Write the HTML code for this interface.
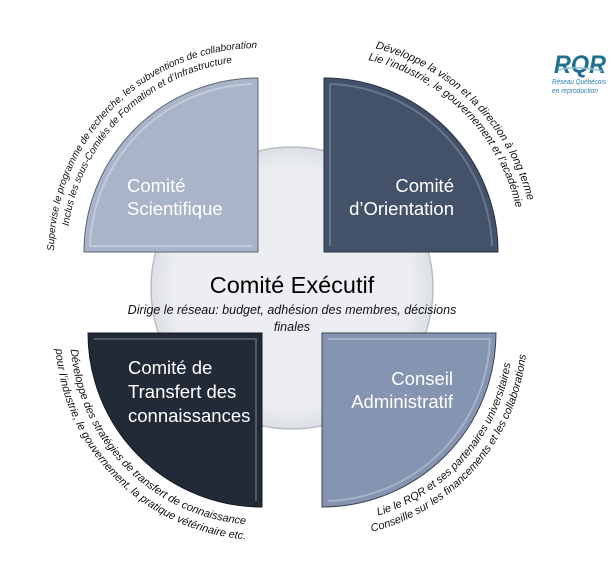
<!DOCTYPE html>
<html><head><meta charset="utf-8"><style>
html,body{margin:0;padding:0;background:#fff;}
svg{display:block;}
</style></head><body>
<svg width="613" height="574" viewBox="0 0 613 574" xmlns="http://www.w3.org/2000/svg" font-family="Liberation Sans, sans-serif">
<defs>
<radialGradient id="cg" cx="50%" cy="50%" r="50%">
<stop offset="0.85" stop-color="#eceef1"/><stop offset="1" stop-color="#dcdfe4"/>
</radialGradient>
<path id="tlo" d="M54.8,269.8 A204,204 0 0 1 275.8,48.8"/>
<path id="tli" d="M67.7,268.6 A191,191 0 0 1 274.6,61.7"/>
<path id="tro" d="M305.7,42.8 A210,210 0 0 1 533.2,270.3"/>
<path id="tri" d="M306.8,55.7 A197,197 0 0 1 520.3,269.2"/>
<path id="bli" d="M70.7,316.3 A192,192 0 0 0 278.7,524.3"/>
<path id="blo" d="M55.8,314.9 A207,207 0 0 0 280.0,539.2"/>
<path id="bri" d="M305.3,523.3 A191,191 0 0 0 512.3,316.4"/>
<path id="bro" d="M304.1,537.2 A205,205 0 0 0 526.2,315.1"/>
</defs>

<circle cx="292" cy="288" r="141" fill="url(#cg)" stroke="#b9bdc4" stroke-width="1.5"/>

<path d="M258,252 L84,252 A174,174 0 0 1 258,78 Z" fill="#a9b4c8" stroke="#5b6375" stroke-width="1"/>
<path d="M252,246 L90,246 A168,168 0 0 1 252,84" fill="none" stroke="#c9d1df" stroke-width="2" opacity="0.8"/>
<path d="M324,252 L324,78 A174,174 0 0 1 498,252 Z" fill="#435169" stroke="#2a3242" stroke-width="1"/>
<path d="M330,246 L330,84 A168,168 0 0 1 492,246" fill="none" stroke="#7885a0" stroke-width="2" opacity="0.7"/>
<path d="M262,333 L88,333 A174,174 0 0 0 262,507 Z" fill="#232a37" stroke="#141820" stroke-width="1"/>
<path d="M94,339 L256,339 L256,501" fill="none" stroke="#5c6475" stroke-width="2" opacity="0.8"/>
<path d="M322,333 L322,507 A174,174 0 0 0 496,333 Z" fill="#8595b1" stroke="#3b4354" stroke-width="1"/>
<path d="M328,339 L490,339 A168,168 0 0 1 328,501" fill="none" stroke="#b3bfd2" stroke-width="2" opacity="0.7"/>

<g fill="#fff" font-size="18.5">
<text x="127" y="192">Comité</text>
<text x="127" y="215">Scientifique</text>
<text x="454" y="192" text-anchor="end">Comité</text>
<text x="454" y="215" text-anchor="end">d’Orientation</text>
<text x="128" y="374">Comité de</text>
<text x="128" y="398">Transfert des</text>
<text x="128" y="422">connaissances</text>
<text x="453" y="385" text-anchor="end">Conseil</text>
<text x="453" y="408" text-anchor="end">Administratif</text>
</g>

<text x="292" y="293" text-anchor="middle" font-size="23.5" fill="#000">Comité Exécutif</text>
<text x="292" y="314" text-anchor="middle" font-size="12.5" font-style="italic" fill="#111">Dirige le réseau: budget, adhésion des membres, décisions</text>
<text x="292" y="331" text-anchor="middle" font-size="12.5" font-style="italic" fill="#111">finales</text>

<g font-size="10" font-style="italic" fill="#111">
<text><textPath href="#tlo" startOffset="50%" text-anchor="middle">Supervise le programme de recherche, les subventions de collaboration</textPath></text>
<text><textPath href="#tli" startOffset="50%" text-anchor="middle">Inclus les sous-Comités de Formation et d’Infrastructure</textPath></text>
<text font-size="11"><textPath href="#tro" startOffset="50%" text-anchor="middle">Développe la vison et la direction à long terme</textPath></text>
<text font-size="11"><textPath href="#tri" startOffset="50%" text-anchor="middle">Lie l’industrie, le gouvernement et l’académie</textPath></text>
<text font-size="11"><textPath href="#bli" startOffset="50%" text-anchor="middle">Développe des stratégies de transfert de connaissance</textPath></text>
<text font-size="11"><textPath href="#blo" startOffset="50%" text-anchor="middle">pour l’industrie, le gouvernement, la pratique vétérinaire etc.</textPath></text>
<text font-size="11"><textPath href="#bri" startOffset="54%" text-anchor="middle">Lie le RQR et ses partenaires universitaires</textPath></text>
<text font-size="11"><textPath href="#bro" startOffset="54%" text-anchor="middle">Conseille sur les financements et les collaborations</textPath></text>
</g>

<text x="580" y="73" text-anchor="middle" font-size="25" font-weight="bold" font-style="italic" fill="#1f6f8f" textLength="52" lengthAdjust="spacingAndGlyphs">RQR</text>
<path d="M558,70 Q577,65 602,71" fill="none" stroke="#8fc3dc" stroke-width="1.5"/>
<text x="552" y="84" font-size="7" font-style="italic" fill="#2c7fb8" textLength="54" lengthAdjust="spacingAndGlyphs">Réseau Québécois</text>
<text x="552" y="93" font-size="7" font-style="italic" fill="#2c7fb8" textLength="46" lengthAdjust="spacingAndGlyphs">en reproduction</text>
</svg>
</body></html>
